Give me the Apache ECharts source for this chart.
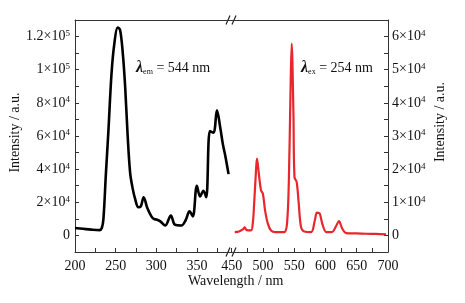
<!DOCTYPE html>
<html>
<head>
<meta charset="utf-8">
<script src="https://cdn.jsdelivr.net/npm/echarts@6/dist/echarts.min.js"></script>
<style>
  html, body { margin: 0; padding: 0; background: #fff; }
  #chart { width: 465px; height: 303px; }
</style>
</head>
<body>
<div id="chart"></div>
<script>
// excitation spectrum (monitored at 544 nm), left axis
const excWavelength = [200, 210, 220, 230, 233, 235, 238, 241, 245, 248.5, 252.5, 255.5, 258.8, 261.7, 264.5, 267.8, 270.7, 274, 278, 281, 284.5, 289, 294, 297, 301, 305, 311, 318, 323, 331, 336, 341, 345, 350, 354, 358, 361.5, 366, 370.5, 374.7, 378.8, 382, 385, 389];
const excIntensity = [4500, 4000, 3500, 3200, 4500, 10000, 37000, 62000, 98000, 116000, 125500, 124000, 110000, 90000, 63000, 38000, 29000, 22000, 17000, 17500, 23000, 16500, 11500, 10000, 9500, 8500, 6000, 12000, 6500, 6000, 9000, 14500, 11500, 30000, 23500, 27000, 23000, 63000, 62000, 75500, 65000, 55000, 48000, 37000];

// emission spectrum (excited at 254 nm), right axis
const emWavelength = [455, 462, 468, 471, 474, 481, 484, 486, 488.5, 490.5, 493.5, 497, 500, 503.5, 508, 513, 520, 534, 538.5, 541.5, 544, 546, 548.8, 550.5, 554, 557.3, 561, 566, 577, 583, 586.5, 590.8, 595, 601.5, 610, 617.5, 621.5, 627, 633, 650, 665, 680, 697];
const emIntensity = [1000, 1200, 1800, 2400, 1600, 1500, 4000, 9600, 18000, 23200, 18600, 13600, 12600, 7500, 3500, 1500, 1000, 1000, 3500, 16600, 42000, 57900, 36800, 17600, 16100, 9600, 2500, 1200, 1000, 4500, 6900, 6600, 3500, 1000, 1000, 3000, 4300, 2000, 700, 600, 500, 450, 300];

// tick values
const xLabelsLeft = [200, 250, 300, 350];
const xTicksLeft = [200, 225, 250, 275, 300, 325, 350, 375];
const xLabelsRight = [450, 500, 550, 600, 650, 700];
const xTicksRight = [450, 475, 500, 525, 550, 575, 600, 625, 650, 675, 700];
const yLabelsLeft = [0, 20000, 40000, 60000, 80000, 100000, 120000];
const yTicksLeft = [0, 10000, 20000, 30000, 40000, 50000, 60000, 70000, 80000, 90000, 100000, 110000, 120000];
const yLabelsRight = [0, 10000, 20000, 30000, 40000, 50000, 60000];
const yTicksRight = [0, 5000, 10000, 15000, 20000, 25000, 30000, 35000, 40000, 45000, 50000, 55000, 60000];

const FONT = "'Times New Roman', 'Liberation Serif', serif";
const AXIS_COLOR = "#333";

// 1.2x10^5 style labels
function sciLabel(v) {
  if (v === 0) return "0";
  const e = Math.floor(Math.log10(v) + 1e-9);
  const m = +(v / Math.pow(10, e)).toFixed(2);
  return "{m|" + m + "×10}{e|" + e + "}";
}
const sciRich = {
  m: { fontFamily: FONT, fontSize: 14, color: "#111" },
  e: { fontFamily: FONT, fontSize: 9, color: "#111", verticalAlign: "top", padding: [0, 0, 6, 0] },
};

const baseX = {
  type: "value",
  axisLine: { show: true, onZero: false, lineStyle: { color: AXIS_COLOR, width: 1 } },
  splitLine: { show: false },
};

const chart = echarts.init(document.getElementById("chart"), null, { renderer: "canvas" });

chart.setOption({
  animation: false,
  grid: [
    { left: 75, top: 20, width: 156, height: 232 },
    { left: 231, top: 20, width: 157, height: 232 },
  ],
  xAxis: [
    {
      ...baseX,
      gridIndex: 0,
      min: 200,
      max: 392,
      axisTick: { show: true, inside: true, length: 4, customValues: xTicksLeft, lineStyle: { color: AXIS_COLOR } },
      axisLabel: { customValues: xLabelsLeft, fontFamily: FONT, fontSize: 14, color: "#111", margin: 7 },
    },
    {
      ...baseX,
      gridIndex: 1,
      min: 449,
      max: 700,
      axisTick: { show: true, inside: true, length: 4, customValues: xTicksRight, lineStyle: { color: AXIS_COLOR } },
      axisLabel: { customValues: xLabelsRight, fontFamily: FONT, fontSize: 14, color: "#111", margin: 7 },
    },
    // top frame lines
    { ...baseX, gridIndex: 0, position: "top", min: 200, max: 392, axisTick: { show: false }, axisLabel: { show: false } },
    { ...baseX, gridIndex: 1, position: "top", min: 449, max: 700, axisTick: { show: false }, axisLabel: { show: false } },
  ],
  yAxis: [
    {
      type: "value",
      gridIndex: 0,
      position: "left",
      min: -10000,
      max: 130000,
      name: "Intensity / a.u.",
      nameLocation: "middle",
      nameRotate: 90,
      nameGap: 50,
      nameTextStyle: { fontFamily: FONT, fontSize: 14, color: "#111", padding: [0, 0, 0, 7] },
      axisLine: { show: true, onZero: false, lineStyle: { color: AXIS_COLOR, width: 1 } },
      axisTick: { show: true, inside: true, length: 4, customValues: yTicksLeft, lineStyle: { color: AXIS_COLOR } },
      axisLabel: { customValues: yLabelsLeft, formatter: sciLabel, rich: sciRich, fontFamily: FONT, fontSize: 14, color: "#111", margin: 5 },
      splitLine: { show: false },
    },
    {
      type: "value",
      gridIndex: 1,
      position: "right",
      min: -5000,
      max: 65000,
      name: "Intensity / a.u.",
      nameLocation: "middle",
      nameRotate: 90,
      nameGap: 45,
      nameTextStyle: { fontFamily: FONT, fontSize: 14, color: "#111", padding: [0, 0, 0, 28] },
      axisLine: { show: true, onZero: false, lineStyle: { color: AXIS_COLOR, width: 1 } },
      axisTick: { show: true, inside: true, length: 4, customValues: yTicksRight, lineStyle: { color: AXIS_COLOR } },
      axisLabel: { customValues: yLabelsRight, formatter: sciLabel, rich: sciRich, fontFamily: FONT, fontSize: 14, color: "#111", margin: 4 },
      splitLine: { show: false },
    },
  ],
  series: [
    {
      name: "Excitation",
      type: "line",
      xAxisIndex: 0,
      yAxisIndex: 0,
      data: excWavelength.map((w, i) => [w, excIntensity[i]]),
      showSymbol: false,
      smooth: 0.35,
      lineStyle: { color: "#000", width: 2.6 },
    },
    {
      name: "Emission",
      type: "line",
      xAxisIndex: 1,
      yAxisIndex: 1,
      data: emWavelength.map((w, i) => [w, emIntensity[i]]),
      showSymbol: false,
      smooth: 0.35,
      lineStyle: { color: "#e8262b", width: 2.2 },
    },
  ],
  graphic: [
    // axis break marks (top and bottom)
    ...[20, 252].map((y) => ({
      type: "group",
      x: 231,
      y: y,
      children: [
        { type: "rect", shape: { x: -1.5, y: -2, width: 3, height: 4 }, style: { fill: "#fff" } },
        { type: "line", shape: { x1: -5, y1: 4.5, x2: -1, y2: -4.5 }, style: { stroke: "#222", lineWidth: 1.2 } },
        { type: "line", shape: { x1: 1, y1: 4.5, x2: 5, y2: -4.5 }, style: { stroke: "#222", lineWidth: 1.2 } },
      ],
    })),
    {
      type: "text",
      left: 188,
      top: 274,
      style: { text: "Wavelength / nm", font: "14px " + FONT, fill: "#111" },
    },
    {
      type: "text",
      left: 136,
      top: 60,
      style: {
        text: "{l|λ}{s|em}{t| = 544 nm}",
        rich: {
          l: { font: "italic bold 16px " + FONT, fill: "#111" },
          s: { font: "8px " + FONT, fill: "#111", verticalAlign: "bottom" },
          t: { font: "14px " + FONT, fill: "#111" },
        },
      },
    },
    {
      type: "text",
      left: 301,
      top: 60,
      style: {
        text: "{l|λ}{s|ex}{t| = 254 nm}",
        rich: {
          l: { font: "italic bold 16px " + FONT, fill: "#111" },
          s: { font: "8px " + FONT, fill: "#111", verticalAlign: "bottom" },
          t: { font: "14px " + FONT, fill: "#111" },
        },
      },
    },
  ],
});
</script>
</body>
</html>
